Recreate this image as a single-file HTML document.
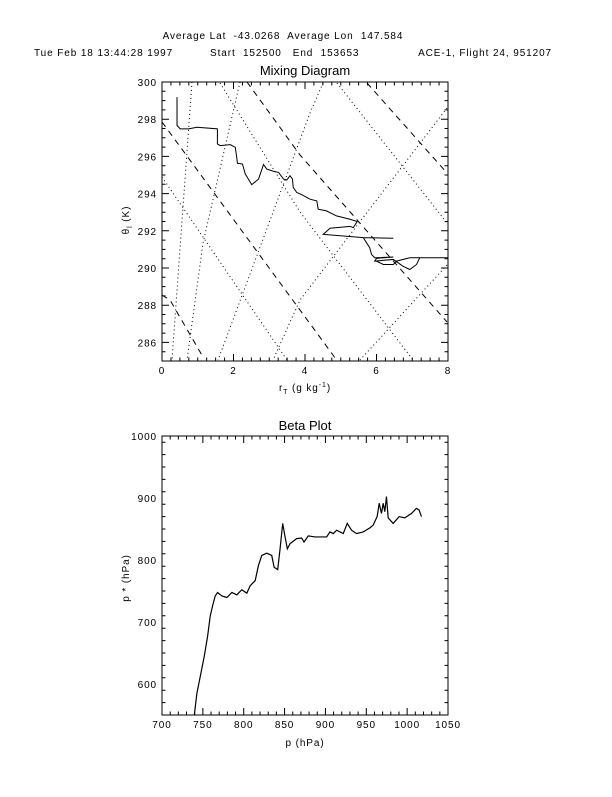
<!DOCTYPE html>
<html><head><meta charset="utf-8"><style>
body{margin:0;background:#fff}
svg text{font-family:"Liberation Sans",sans-serif;fill:#000}
.sm{letter-spacing:0.9px}
</style></head><body>
<svg id="c" width="612" height="792" viewBox="0 0 612 792" xmlns="http://www.w3.org/2000/svg">
<text class="sm" x="283" y="39" font-size="10" text-anchor="middle" xml:space="preserve">Average Lat  -43.0268  Average Lon  147.584</text>
<text class="sm" x="34" y="56" font-size="10">Tue Feb 18 13:44:28 1997</text>
<text class="sm" x="210" y="56" font-size="10" xml:space="preserve">Start  152500   End  153653</text>
<text class="sm" x="552" y="56" font-size="10" text-anchor="end">ACE-1, Flight 24, 951207</text>
<text x="305" y="75" font-size="13" text-anchor="middle">Mixing Diagram</text>
<text x="305" y="430" font-size="13" text-anchor="middle">Beta Plot</text>
<text class="sm" x="305" y="391" font-size="10" text-anchor="middle">r<tspan font-size="7" dy="3">T</tspan><tspan dy="-3"> (g kg</tspan><tspan font-size="7" dy="-4">-1</tspan><tspan dy="4">)</tspan></text>
<text class="sm" transform="translate(129,220) rotate(-90)" font-size="10" text-anchor="middle">θ<tspan font-size="7" dy="3">l</tspan><tspan dy="-3"> (K)</tspan></text>
<text class="sm" x="305" y="746" font-size="10" text-anchor="middle">p (hPa)</text>
<text class="sm" transform="translate(129,578) rotate(-90)" font-size="10" text-anchor="middle">p * (hPa)</text>
<g id="g1"></g>
<g id="g2"></g>
</svg>
<script>
// Mixing diagram data
const mixX = [0.42,0.42,0.51,0.74,0.98,1.55,1.55,1.63,1.91,2.05,2.09,2.11,2.25,2.33,2.51,2.70,2.84,2.93,3.12,3.26,3.40,3.49,3.58,3.65,3.67,3.77,3.91,4.14,4.33,4.37,4.60,4.88,5.26,5.46,5.35,5.26,4.70,4.51,5.63,6.47,5.63,5.72,5.81,5.86,5.95,6.47,6.00,5.95,6.47,6.74,6.93,7.12,7.21,8.0,6.93,6.56,6.47,6.19,6.0];
const mixY = [299.19,297.66,297.48,297.48,297.57,297.48,296.67,296.58,296.63,296.49,295.95,295.63,295.59,295.05,294.48,294.78,295.56,295.32,295.20,295.14,294.78,294.73,294.96,294.78,294.33,294.06,293.94,293.70,293.61,293.16,293.07,292.80,292.62,292.50,292.17,292.24,292.14,291.81,291.63,291.60,291.63,291.36,291.09,290.73,290.55,290.59,290.52,290.37,290.46,290.10,289.92,290.19,290.55,290.55,290.55,290.37,290.19,290.19,290.37];
const mixXTicks = [0,2,4,6,8];
const mixYTicks = [286,288,290,292,294,296,298,300];
// Beta plot data
const betaP = [739.5,742.7,746.8,751.7,755.8,759,761.9,765.1,768,773.3,779.4,785.5,791.6,797.7,803.8,807.9,814,818,822.1,828.2,834.3,837.2,841.6,844.5,847.7,850.6,853.4,856.7,864.8,870.9,873.8,879,887.2,901.5,905.5,909.6,913.7,921.8,926.7,932,938.1,946.2,954.4,958.4,963.3,965.8,968.6,970.7,972.7,974.7,976.8,982.9,990.2,997.1,1005.2,1011.4,1014.6,1017.5];
const betaPStar = [549.5,585,612,644.5,677,709.6,726,742,747.6,742,739.5,747.6,743.8,752,746.5,758.5,766.6,791,807.3,811,807.3,788.3,784.5,818,859,837.2,818,826.4,834.5,835.5,829,838.8,837.2,837.2,845.3,842.6,848,842.6,859,848,842.6,845.3,851.8,856.2,870,891.5,875,891.5,877.9,902.3,868,859,870,868,875,883.3,880.6,870];
const betaXTicks = [700,750,800,850,900,950,1000,1050];
const betaYTicks = [600,700,800,900,1000];

const NS='http://www.w3.org/2000/svg';
function mk(parent,tag,attrs){const e=document.createElementNS(NS,tag);for(const k in attrs)e.setAttribute(k,attrs[k]);parent.appendChild(e);return e;}

function axes(g,L,R,T,B,x0,x1,y0,y1,xt,yt,xminor,yminor,name){
  const sx=v=>L+(v-x0)/(x1-x0)*(R-L), sy=v=>B-(v-y0)/(y1-y0)*(B-T);
  const fr=mk(g,'rect',{x:L,y:T,width:R-L,height:B-T,fill:'none',stroke:'#000','stroke-width':1});
  
  
  let p='';
  for(let v=x0;v<=x1+1e-9;v+=xminor){const x=sx(v);const maj=xt.some(t=>Math.abs(t-v)<1e-6);const l=maj?7:3.5;p+=`M${x},${B}v${-l}M${x},${T}v${l}`;}
  for(let v=y0;v<=y1+1e-9;v+=yminor){const y=sy(v);const maj=yt.some(t=>Math.abs(t-v)<1e-6);const l=maj?7:3.5;p+=`M${L},${y}h${l}M${R},${y}h${-l}`;}
  const tk=mk(g,'path',{d:p,stroke:'#000','stroke-width':1,fill:'none'});
  
  
  xt.forEach(v=>{const t=mk(g,'text',{x:sx(v),y:B+13,'font-size':10,'text-anchor':'middle','class':'sm'});t.textContent=v;
    
    });
  yt.forEach(v=>{const t=mk(g,'text',{x:L-5,y:sy(v)+4,'font-size':10,'text-anchor':'end','class':'sm'});t.textContent=v;
    
    });
  return [sx,sy];
}

// Mixing diagram
const g1=document.getElementById('g1');
const [sx1,sy1]=axes(g1,162,448,82,361,0,8,285,300,mixXTicks,mixYTicks,0.25,0.5,'mixing');
const guides=[
 ['6,5',[[162,122],[333,355],[337,361]]],
 ['6,5',[[247,82],[300,155],[447,322]]],
 ['6,5',[[367,83],[447,173]]],
 ['6,5',[[162,295],[170,300],[203,357]]],
 ['1,3',[[220,83],[300,212],[413,360]]],
 ['1,3',[[162,177],[287,360]]],
 ['1,3',[[337,83],[447,223]]],
 ['1,3',[[192,82],[172,360]]],
 ['1,3',[[240,82],[203,243],[187,360]]],
 ['1,3',[[323,83],[310,113],[218,360]]],
 ['1,3',[[447,108],[300,300],[273,360]]],
 ['1,3',[[447,265],[360,360]]]
];
guides.forEach(([da,pts])=>{const e=mk(g1,'polyline',{points:pts.map(p=>p.join(',')).join(' '),fill:'none',stroke:'#000','stroke-width':1,'stroke-dasharray':da});
  
  });
const l1=mk(g1,'polyline',{points:mixX.map((v,i)=>sx1(v)+','+sy1(mixY[i])).join(' '),fill:'none',stroke:'#000','stroke-width':1});



// Beta plot
const g2=document.getElementById('g2');
const [sx2,sy2]=axes(g2,162,448,436,715,700,1050,550,1000,betaXTicks,betaYTicks,10,20,'beta');
const l2=mk(g2,'polyline',{points:betaP.map((v,i)=>sx2(v)+','+sy2(betaPStar[i])).join(' '),fill:'none',stroke:'#000','stroke-width':1.2});


</script>
</body></html>
